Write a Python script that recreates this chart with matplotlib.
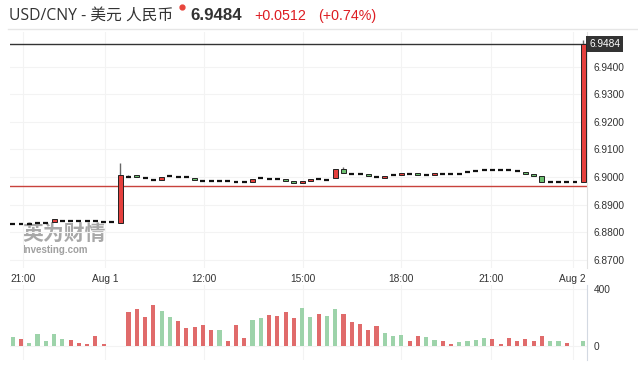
import matplotlib.pyplot as plt
from matplotlib.patches import Rectangle
from matplotlib.lines import Line2D
import matplotlib.transforms as mtransforms

plt.rcParams['font.family'] = ['Liberation Sans', 'DejaVu Sans']

# 15 minute candles, USD/CNY
opens = [6.8829, 6.8829, 6.8830, 6.8833, 6.8834, 6.8836, 6.8842, 6.8842, 6.8841, 6.8840,
         6.8840, 6.8837, 6.8836, 6.8835, 6.9001, 6.9007, 6.8995, 6.8990, 6.8989, 6.9004,
         6.8999, 6.8999, 6.8996, 6.8986, 6.8986, 6.8985, 6.8984, 6.8983, 6.8983, 6.8981,
         6.8996, 6.8994, 6.8992, 6.8992, 6.8984, 6.8977, 6.8984, 6.8993, 6.8990, 6.8995,
         6.9028, 6.9011, 6.9011, 6.9011, 6.9001, 6.8996, 6.9006, 6.9006, 6.9011, 6.9013,
         6.9008, 6.9008, 6.9012, 6.9012, 6.9012, 6.9018, 6.9022, 6.9025, 6.9025, 6.9025,
         6.9025, 6.9023, 6.9019, 6.9011, 6.9004, 6.8981, 6.8981, 6.8981, 6.8981, 6.8981]
closes = [6.8829, 6.8829, 6.8830, 6.8833, 6.8834, 6.8848, 6.8842, 6.8842, 6.8841, 6.8840,
          6.8840, 6.8837, 6.8836, 6.9007, 6.9001, 6.8999, 6.8995, 6.8990, 6.8999, 6.9004,
          6.8999, 6.8999, 6.8989, 6.8986, 6.8986, 6.8985, 6.8984, 6.8983, 6.8983, 6.8992,
          6.8996, 6.8994, 6.8992, 6.8984, 6.8977, 6.8984, 6.8992, 6.8993, 6.8990, 6.9028,
          6.9013, 6.9011, 6.9011, 6.9004, 6.9001, 6.9004, 6.9006, 6.9013, 6.9011, 6.9006,
          6.9008, 6.9016, 6.9012, 6.9012, 6.9012, 6.9018, 6.9022, 6.9025, 6.9025, 6.9025,
          6.9025, 6.9023, 6.9011, 6.9004, 6.8981, 6.8981, 6.8981, 6.8981, 6.8981, 6.9484]
highs = [6.8829, 6.8829, 6.8830, 6.8833, 6.8834, 6.8848, 6.8842, 6.8842, 6.8841, 6.8840,
         6.8840, 6.8837, 6.8836, 6.9052, 6.9007, 6.9007, 6.8995, 6.8990, 6.8999, 6.9008,
         6.8999, 6.8999, 6.8996, 6.8986, 6.8986, 6.8985, 6.8984, 6.8983, 6.8983, 6.8992,
         6.9000, 6.8994, 6.8992, 6.8992, 6.8984, 6.8984, 6.8992, 6.8997, 6.8990, 6.9028,
         6.9035, 6.9011, 6.9014, 6.9011, 6.9001, 6.9004, 6.9010, 6.9013, 6.9011, 6.9013,
         6.9008, 6.9016, 6.9012, 6.9012, 6.9012, 6.9018, 6.9022, 6.9025, 6.9025, 6.9025,
         6.9025, 6.9023, 6.9019, 6.9011, 6.9004, 6.8981, 6.8981, 6.8981, 6.8981, 6.9497]

volumes = [61, 47, 19, 82, 33, 82, 47, 45, 24, 12,
           73, 12, 0, 0, 242, 264, 207, 287, 245, 202,
           174, 129, 136, 151, 115, 111, 33, 151, 59, 181,
           195, 221, 214, 242, 200, 265, 202, 222, 209, 259,
           224, 167, 158, 115, 144, 89, 68, 75, 38, 73,
           61, 40, 33, 12, 28, 35, 40, 59, 52, 12,
           54, 38, 52, 33, 73, 33, 35, 19, 0, 35]
# u = red bar, d = green bar
vol_dir = ['d', 'u', 'd', 'd', 'd', 'd', 'd', 'u', 'u', 'u',
           'u', 'u', '-', '-', 'u', 'u', 'u', 'u', 'd', 'd',
           'u', 'u', 'u', 'u', 'u', 'd', 'u', 'u', 'u', 'd',
           'd', 'u', 'u', 'u', 'u', 'd', 'd', 'u', 'd', 'd',
           'u', 'u', 'u', 'u', 'u', 'd', 'd', 'd', 'u', 'u',
           'd', 'd', 'u', 'u', 'd', 'd', 'd', 'd', 'u', 'u',
           'u', 'u', 'u', 'u', 'u', 'd', 'd', 'u', '-', 'd']

tick_pos = [1.2, 11.2, 23.1, 35.1, 47.0, 57.9, 67.7]
tick_labels = ['21:00', 'Aug 1', '12:00', '15:00', '18:00', '21:00', 'Aug 2']
price_ticks = [6.87, 6.88, 6.89, 6.90, 6.91, 6.92, 6.93, 6.94]
vol_ticks = [0, 400]

last_price = 6.9484
prev_close = 6.8969
title = 'USD/CNY - 美元 人民币'
last_txt = '6.9484'
change_txt = '+0.0512'
pct_txt = '(+0.74%)'

RED = '#e5403d'
GREEN = '#6cc070'
VRED = '#e06b6b'
VGREEN = '#9dd3aa'
TXT = '#333333'

W, H = 638, 366
fig = plt.figure(figsize=(W / 100, H / 100), dpi=100)
fig.patch.set_facecolor('white')

ax = fig.add_axes([10 / W, 1 - 268 / H, 577 / W, 236 / H])
vax = fig.add_axes([10 / W, 1 - 360 / H, 577 / W, 75 / H])

# candles
for i, (o, c, h) in enumerate(zip(opens, closes, highs)):
    lo, hi = min(o, c), max(o, c)
    if h > hi:
        ax.vlines(i, hi, h, color='#666666', lw=1, zorder=3)
    if hi - lo < 0.0002:
        ax.hlines(c, i - 0.3, i + 0.3, color='#111111', lw=1.6, zorder=4)
    else:
        ax.add_patch(Rectangle((i - 0.3, lo), 0.6, hi - lo,
                               facecolor=RED if c > o else GREEN,
                               edgecolor='#222222', lw=0.7, zorder=4))

ax.axhline(last_price, color='#333333', lw=1, zorder=2)
ax.axhline(prev_close, color='#c8423c', lw=1, zorder=2)

ax.set_xlim(-0.33, 69.45)
ax.set_ylim(6.8670, 6.9526)
ax.set_xticks(tick_pos)
ax.set_xticklabels(tick_labels)
ax.set_yticks(price_ticks)
ax.set_yticklabels(['%.4f' % p for p in price_ticks])
ax.yaxis.tick_right()
ax.tick_params(axis='both', length=0, labelsize=7.3, labelcolor=TXT)
ax.tick_params(axis='y', pad=5)
ax.tick_params(axis='x', pad=4)
ax.grid(True, color='#f3f3f3', lw=0.8, zorder=0)
for s in ['top', 'left', 'bottom']:
    ax.spines[s].set_visible(False)
ax.spines['right'].set_color('#e2e2e2')

# last price box
trans = mtransforms.blended_transform_factory(ax.transAxes, ax.transData)
ax.text(1.004, last_price, last_txt, transform=trans, ha='left', va='center',
        color='white', fontsize=7.3,
        bbox=dict(boxstyle='square,pad=0.3', fc='#333333', ec='none'))

# watermark
ax.text(0.022, 0.145, '英为财情', transform=ax.transAxes, fontsize=15,
        fontweight='bold', color='#a8a8a8', va='center', ha='left',
        family=['Noto Sans CJK SC', 'DejaVu Sans'], zorder=1)
ax.text(0.022, 0.078, 'Investing.com', transform=ax.transAxes, fontsize=7,
        fontweight='bold', color='#a0a0a0', va='center', ha='left', zorder=1)

# volume
xs = list(range(len(volumes)))
vcols = [VRED if d == 'u' else VGREEN for d in vol_dir]
vax.bar(xs, volumes, width=0.5, color=vcols, zorder=3)
vax.set_xlim(-0.33, 69.45)
vax.set_ylim(-99, 430)
vax.set_xticks(tick_pos)
vax.set_xticklabels([])
vax.set_yticks(vol_ticks)
vax.yaxis.tick_right()
vax.tick_params(axis='both', length=0, labelsize=7.3, labelcolor=TXT)
vax.tick_params(axis='y', pad=5)
vax.grid(True, color='#f3f3f3', lw=0.8, zorder=0)
for s in ['top', 'left', 'bottom']:
    vax.spines[s].set_visible(False)
vax.spines['right'].set_color('#d3d9e2')

# header
fig.add_artist(Line2D([8 / W, 1], [1 - 29 / H, 1 - 29 / H], color='#e6e6e6', lw=1))
hy = 1 - 16 / H
fig.text(9 / W, hy, title, fontsize=11.3, color=TXT, va='center', ha='left',
         family=['Open Sans', 'Noto Sans CJK SC', 'DejaVu Sans'])
fig.add_artist(Line2D([182 / W], [1 - 7 / H], marker='o', markersize=3.5,
                      color='#e8453c', lw=0))
fig.text(190 / W, hy, last_txt, fontsize=12.2, fontweight='bold', color=TXT,
         va='center', ha='left')
fig.text(254 / W, hy, change_txt, fontsize=10.3, color='#dd1c22',
         va='center', ha='left')
fig.text(318 / W, hy, pct_txt, fontsize=10.3, color='#dd1c22',
         va='center', ha='left')

fig.savefig('out.png', dpi=100)
